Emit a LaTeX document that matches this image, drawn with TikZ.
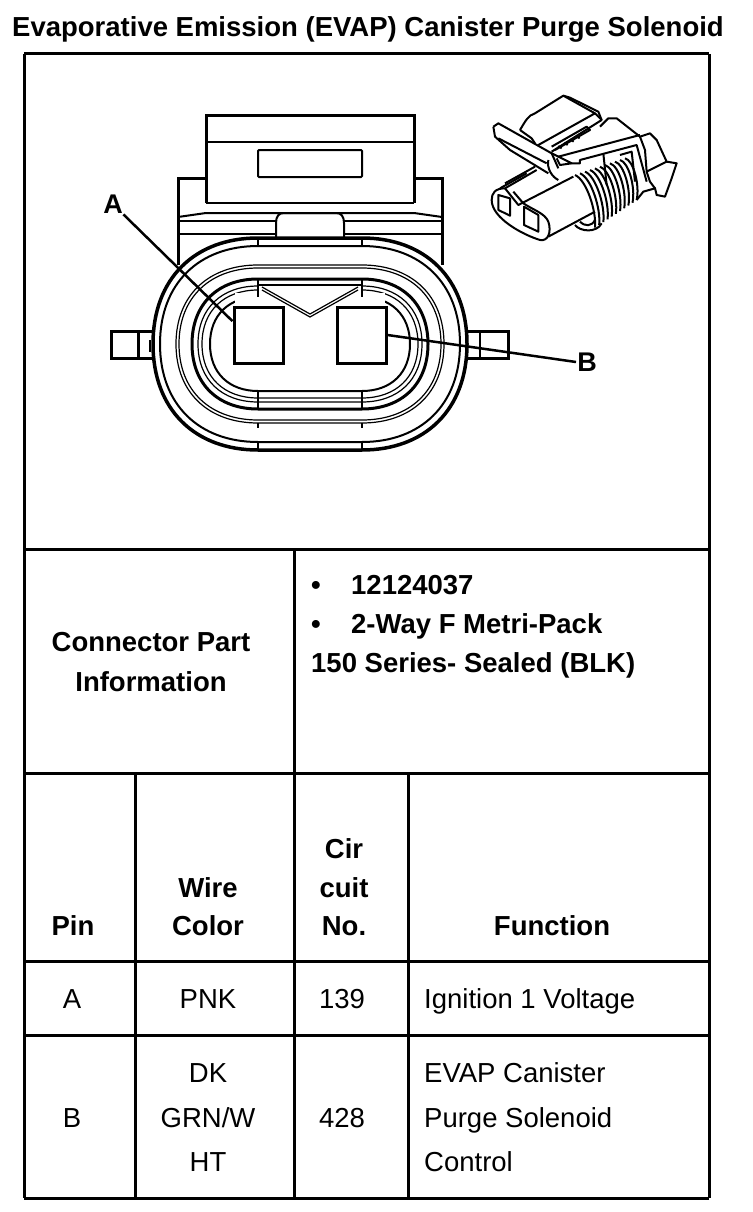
\documentclass[tikz,border=0pt]{standalone}
\usepackage{fontspec}
\setmainfont{Liberation Sans}
\usetikzlibrary{calc}
\tikzset{
  rule/.style={line width=3pt},
  thick line/.style={line width=3pt},
  part line/.style={line width=2pt},
  thin line/.style={line width=1.2pt},
  leader/.style={line width=2.5pt},
  head/.style={font=\fontsize{27.5}{27.5}\selectfont\bfseries,anchor=base,inner sep=0pt},
  cell/.style={font=\fontsize{27.5}{27.5}\selectfont,anchor=base,inner sep=0pt},
  cell left/.style={cell,anchor=base west},
  head left/.style={head,anchor=base west},
  letter/.style={font=\fontsize{27}{27}\selectfont\bfseries,inner sep=1pt},
  pin box/.style={draw,line width=3pt,minimum width=49pt,minimum height=56pt,inner sep=0pt}
}
% half width, half height of a ring round the centre of the plug
\newcommand{\ringpath}[2]{
  (362,344-#2) .. controls ({362+0.6*(#1-52)},344-#2) and (310+#1,{344-0.62*#2}) .. (310+#1,344)
  .. controls (310+#1,{344+0.62*#2}) and ({362+0.6*(#1-52)},344+#2) .. (362,344+#2)
  -- (258,344+#2) .. controls ({258-0.6*(#1-52)},344+#2) and (310-#1,{344+0.62*#2}) .. (310-#1,344)
  .. controls (310-#1,{344-0.62*#2}) and ({258-0.6*(#1-52)},344-#2) .. (258,344-#2) -- cycle
}
\begin{document}
\begin{tikzpicture}[x=1pt,y=-1pt]
  \useasboundingbox (0,0) rectangle (752,1212);

  % Title
  \node[head] (title) at (368,37) {Evaporative Emission (EVAP) Canister Purge Solenoid};

  % Table lines
  \draw[rule] (24,54) -- (709,54) (24,549) -- (709,549) (24,773) -- (709,773)
    (24,961) -- (709,961) (24,1035) -- (709,1035) (24,1198) -- (709,1198);
  \draw[rule] (24,54) -- (24,1198) (709,54) -- (709,1198);
  \draw[rule] (294,549) -- (294,1198);
  \draw[rule] (135,773) -- (135,1198) (408,773) -- (408,1198);

  % Top of the housing
  \draw[thick line] (206,203) -- (206,116) -- (414,116) -- (414,203);
  \draw[part line] (206,142) -- (414,142) (206,203) -- (414,203);
  \draw[part line,rounded corners=1pt] (258,150) rectangle (362,177);
  \draw[thick line] (206,178) -- (178,178) -- (178,265);
  \draw[thick line] (414,178) -- (442,178) -- (442,265);
  \draw[part line] (178,217) -- (206,213) -- (414,213) -- (442,217);
  \draw[part line] (178,221) -- (276,221) (178,234) -- (276,234)
    (344,221) -- (442,221) (344,234) -- (442,234);
  \draw[part line] (276,238) -- (276,223) .. controls (276,216) and (279,213) .. (284,213)
    -- (336,213) .. controls (341,213) and (344,216) .. (344,223) -- (344,238);

  % Side lugs
  \draw[thick line] (153,331) -- (111,331) -- (111,358) -- (153,358);
  \draw[thick line] (138,331) -- (138,358);
  \draw[part line] (150,340) -- (150,352);
  \draw[thick line] (467,331) -- (508,331) -- (508,358) -- (467,358);
  \draw[part line] (480,331) -- (480,358);

  % Rings of the seal
  \draw[fill=white,line width=3.5pt] \ringpath{157}{106};
  \draw[part line] \ringpath{150}{98};
  \draw[thin line] \ringpath{134}{79};
  \draw[thin line] \ringpath{131}{76};
  \draw[thick line] \ringpath{118}{65};
  \draw[thin line] \ringpath{112}{58};
  \draw[thin line] \ringpath{108}{54};
  \draw[part line] \ringpath{100}{47};

  % The rings stop at the pins and at the key
  \fill[white] (235,293) rectangle (385,306);
  \fill[white] (259,281) rectangle (361,306);

  % Small ticks between the rings
  \foreach \xpos in {258,362} {
    \draw[part line] (\xpos,238) -- (\xpos,246) (\xpos,279) -- (\xpos,297);
    \draw[part line] (\xpos,391) -- (\xpos,410) (\xpos,423) -- (\xpos,428) (\xpos,443) -- (\xpos,450);
  }
  \draw[part line] (258,285) -- (362,285);
  \draw[thin line] (262,287) -- (310,314) -- (358,287);
  \draw[thin line] (262,290) -- (310,317) -- (358,290);

  % Pins
  \node[pin box] (pinA) at (258.5,335) {};
  \node[pin box] (pinB) at (361.5,335) {};

  % Pin letters
  \node[letter] (letterA) at (113,204) {A};
  \node[letter] (letterB) at (587,362) {B};
  \draw[leader] (letterA.-45) -- (pinA.152);
  \draw[leader] (letterB.west) -- (pinB.east);

  % Small view of the connector
  \begin{scope}[shift={(480,85)},x=0.3333pt,y=-0.3333pt,part line,line join=round]
    % latch
    \draw (120,135) .. controls (135,110) and (145,90) .. (165,85) -- (250,32) -- (270,38) -- (355,80) -- (365,105) -- (215,200);
    \draw (250,32) -- (345,85) -- (175,180);
    \draw (345,85) -- (365,105);
    \draw (120,135) -- (155,160) -- (165,175);
    \draw (40,125) -- (55,115) -- (215,205) -- (235,250);
    \draw (40,125) -- (45,155) -- (90,195) -- (205,265);
    \draw (55,160) -- (200,235);
    \draw (215,185) -- (320,125) -- (330,135) -- (225,195);
    \foreach \nn in {0,1,2,3} \draw (235+18*\nn,183-10*\nn) -- (245+18*\nn,190-10*\nn);
    \draw (215,205) -- (235,215) -- (275,235) -- (240,240) -- (230,220);
    \draw (205,225) .. controls (200,250) and (215,275) .. (235,285);
    % rear block
    \draw (235,215) -- (480,150);
    \draw (275,235) -- (300,235) -- (300,225) -- (470,180) -- (500,290);
    \draw (360,125) -- (385,100) -- (410,100) -- (480,155) -- (510,145) -- (530,165) -- (560,230) -- (590,235) -- (575,280) -- (555,335) -- (530,330) -- (525,310) -- (490,320) -- (470,345);
    \draw (370,205) -- (380,300);
    \draw (420,210) -- (455,200) -- (465,290);
    \draw (480,155) -- (495,195) -- (500,260) -- (560,230);
    \draw (500,260) -- (510,290) -- (525,310);
    % body and threads
    \draw (35,345) .. controls (35,325) and (45,310) .. (75,310) -- (170,255);
    \draw (75,310) -- (115,360) -- (280,275);
    \draw (60,310) -- (140,265);
    \draw (75,295) -- (165,245);
    \draw (35,345) .. controls (35,400) and (130,450) .. (180,465) .. controls (205,470) and (215,440) .. (205,410) .. controls (195,385) and (160,375) .. (130,355) -- (100,320);
    \draw (205,455) -- (345,380);
    \draw (55,330) -- (90,340) -- (90,392) -- (55,375) -- cycle;
    \draw (132,365) -- (175,390) -- (175,440) -- (132,420) -- cycle;
    \foreach \nn in {0,...,10}
      \draw (285+15*\nn,270-5*\nn) .. controls (320+14*\nn,285-6*\nn) and (350+13*\nn,380-8*\nn) .. (345+12.5*\nn,428-8.3*\nn);
    \draw (285,420) .. controls (300,440) and (350,445) .. (365,415);
    \draw (300,410) .. controls (315,425) and (335,425) .. (345,405);
  \end{scope}

  % Connector part information
  \node[head] (partA) at (151,651.5) {Connector Part};
  \node[head] (partB) at (151,691) {Information};
  \node[head left] (bulletA) at (311,594) {•};
  \node[head left] (numA) at (351,594) {12124037};
  \node[head left] (bulletB) at (311,633) {•};
  \node[head left] (numB) at (351,633) {2-Way F Metri-Pack};
  \node[head left] (numC) at (311,672) {150 Series- Sealed (BLK)};

  % Column heads
  \node[head] (hPin) at (73,935) {Pin};
  \node[head] (hWireA) at (208,897) {Wire};
  \node[head] (hWireB) at (208,935) {Color};
  \node[head] (hCirA) at (344,858) {Cir};
  \node[head] (hCirB) at (344,897) {cuit};
  \node[head] (hCirC) at (344,935) {No.};
  \node[head] (hFun) at (552,935) {Function};

  % Row A
  \node[cell] (rowApin) at (72,1008) {A};
  \node[cell] (rowAwire) at (208,1008) {PNK};
  \node[cell] (rowAcir) at (342,1008) {139};
  \node[cell left] (rowAfun) at (424,1008) {Ignition 1 Voltage};

  % Row B
  \node[cell] (rowBpin) at (72,1127) {B};
  \node[cell] (rowBwireA) at (208,1082) {DK};
  \node[cell] (rowBwireB) at (208,1127) {GRN/W};
  \node[cell] (rowBwireC) at (208,1171) {HT};
  \node[cell] (rowBcir) at (342,1127) {428};
  \node[cell left] (rowBfunA) at (424,1082) {EVAP Canister};
  \node[cell left] (rowBfunB) at (424,1127) {Purge Solenoid};
  \node[cell left] (rowBfunC) at (424,1171) {Control};
\end{tikzpicture}
\end{document}
